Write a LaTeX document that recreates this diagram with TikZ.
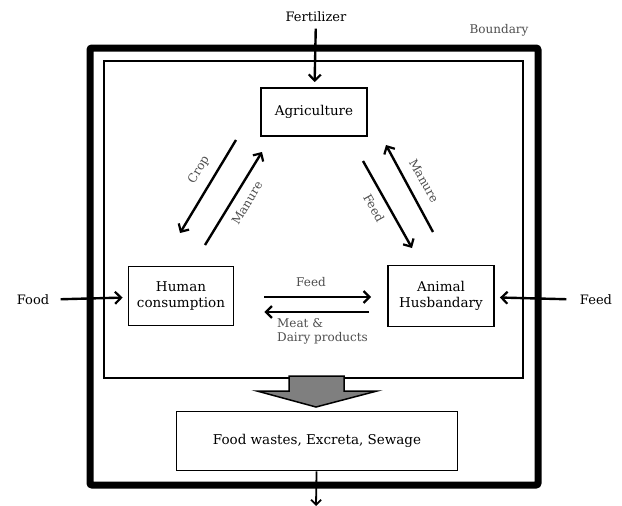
\documentclass[tikz,border=0pt]{standalone}
\usepackage{fontspec}
\setmainfont{DejaVu Serif}
\usetikzlibrary{arrows.meta,calc,positioning}
\definecolor{Ink}{HTML}{000000}
\definecolor{LabelGray}{HTML}{4D4D4D}
\definecolor{BlockGray}{HTML}{7F7F7F}
\tikzset{
  unit/.style={
    draw=Ink, line width=1.8pt, fill=white,
    minimum width=106pt, minimum height=59pt, align=center,
    font=\fontsize{13.5}{16}\selectfont
  },
  outer/.style={text=Ink, font=\fontsize{13}{15}\selectfont},
  flowlabel/.style={text=LabelGray, font=\fontsize{12}{14}\selectfont, inner sep=1pt},
  flow/.style={-{Straight Barb[length=6pt,width=12pt,line width=2.2pt]}, line width=2.4pt, draw=Ink},
  thinflow/.style={-{Straight Barb[length=5pt,width=10pt,line width=1.8pt]}, line width=1.8pt, draw=Ink},
  boundary/.style={draw=Ink, line width=7pt, rounded corners=2pt},
  innerbox/.style={draw=Ink, line width=1.3pt}
}

\begin{document}
\begin{tikzpicture}[x=1pt,y=-1pt]
  \useasboundingbox (0,0) rectangle (622,506);
  % system boundary
  \draw[boundary] (90,48) rectangle (538,485);
  \draw[innerbox] (104,61) rectangle (523,378);
  \node[flowlabel] (bnd) at (499,30) {Boundary};

  % units
  \node[unit,minimum height=48pt] (agri) at (314,112) {Agriculture};
  \node[unit,minimum width=105pt] (human) at (181,296) {Human\\consumption};
  \node[unit,minimum height=61pt] (animal) at (441,296) {Animal\\Husbandary};
  \node[unit,minimum width=281pt] (waste) at (317,441) {Food wastes, Excreta, Sewage};

  % external inputs
  \node[outer] (fert) at (316,17) {Fertilizer};
  \node[outer] (food) at (33,300) {Food};
  \node[outer] (feedin) at (596,300) {Feed};
  \draw[flow,shorten <=3pt,shorten >=5pt] (fert) -- (agri);
  \draw[flow,shorten <=8pt,shorten >=5pt] (food) -- (human);
  \draw[flow,shorten <=10pt,shorten >=5pt] (feedin) -- (animal);

  % human <-> animal
  \draw[flow,shorten <=30pt,shorten >=16pt] ([yshift=-1pt]human.east) -- ([yshift=-1pt]animal.west);
  \draw[flow,shorten <=18pt,shorten >=30pt] ([yshift=-16pt]animal.west) -- ([yshift=-16pt]human.east);
  \node[flowlabel] (feedlbl) at (311,282) {Feed};
  \node[flowlabel,anchor=north west,align=left] (meatlbl) at (276,317) {Meat \&\\Dairy products};

  % agriculture <-> human
  \coordinate (cropS) at (236,140);
  \coordinate (cropE) at (180,233);
  \coordinate (manLS) at (205,245);
  \coordinate (manLE) at (262,152);
  \draw[flow] (cropS) -- (cropE);
  \draw[flow] (manLS) -- (manLE);
  \node[flowlabel,rotate=59] (croplbl) at (199,170) {Crop};
  \node[flowlabel,rotate=59] (manLlbl) at (247,203) {Manure};

  % agriculture <-> animal
  \coordinate (feedS) at (363,161);
  \coordinate (feedE) at (412,248);
  \coordinate (manRS) at (433,232);
  \coordinate (manRE) at (386,145);
  \draw[flow] (feedS) -- (feedE);
  \draw[flow] (manRS) -- (manRE);
  \node[flowlabel,rotate=-61] (feedRlbl) at (374,208) {Feed};
  \node[flowlabel,rotate=-61] (manRlbl) at (424,181) {Manure};

  % wastes
  \draw[fill=BlockGray,draw=Ink,line width=1.5pt]
    (289,376) -- (344,376) -- (344,391) -- (377,391) -- (316,407)
    -- (257,391) -- (289,391) -- cycle;
  \coordinate (out) at (316,506);
  \draw[thinflow] (waste) -- (out);
\end{tikzpicture}
\end{document}
